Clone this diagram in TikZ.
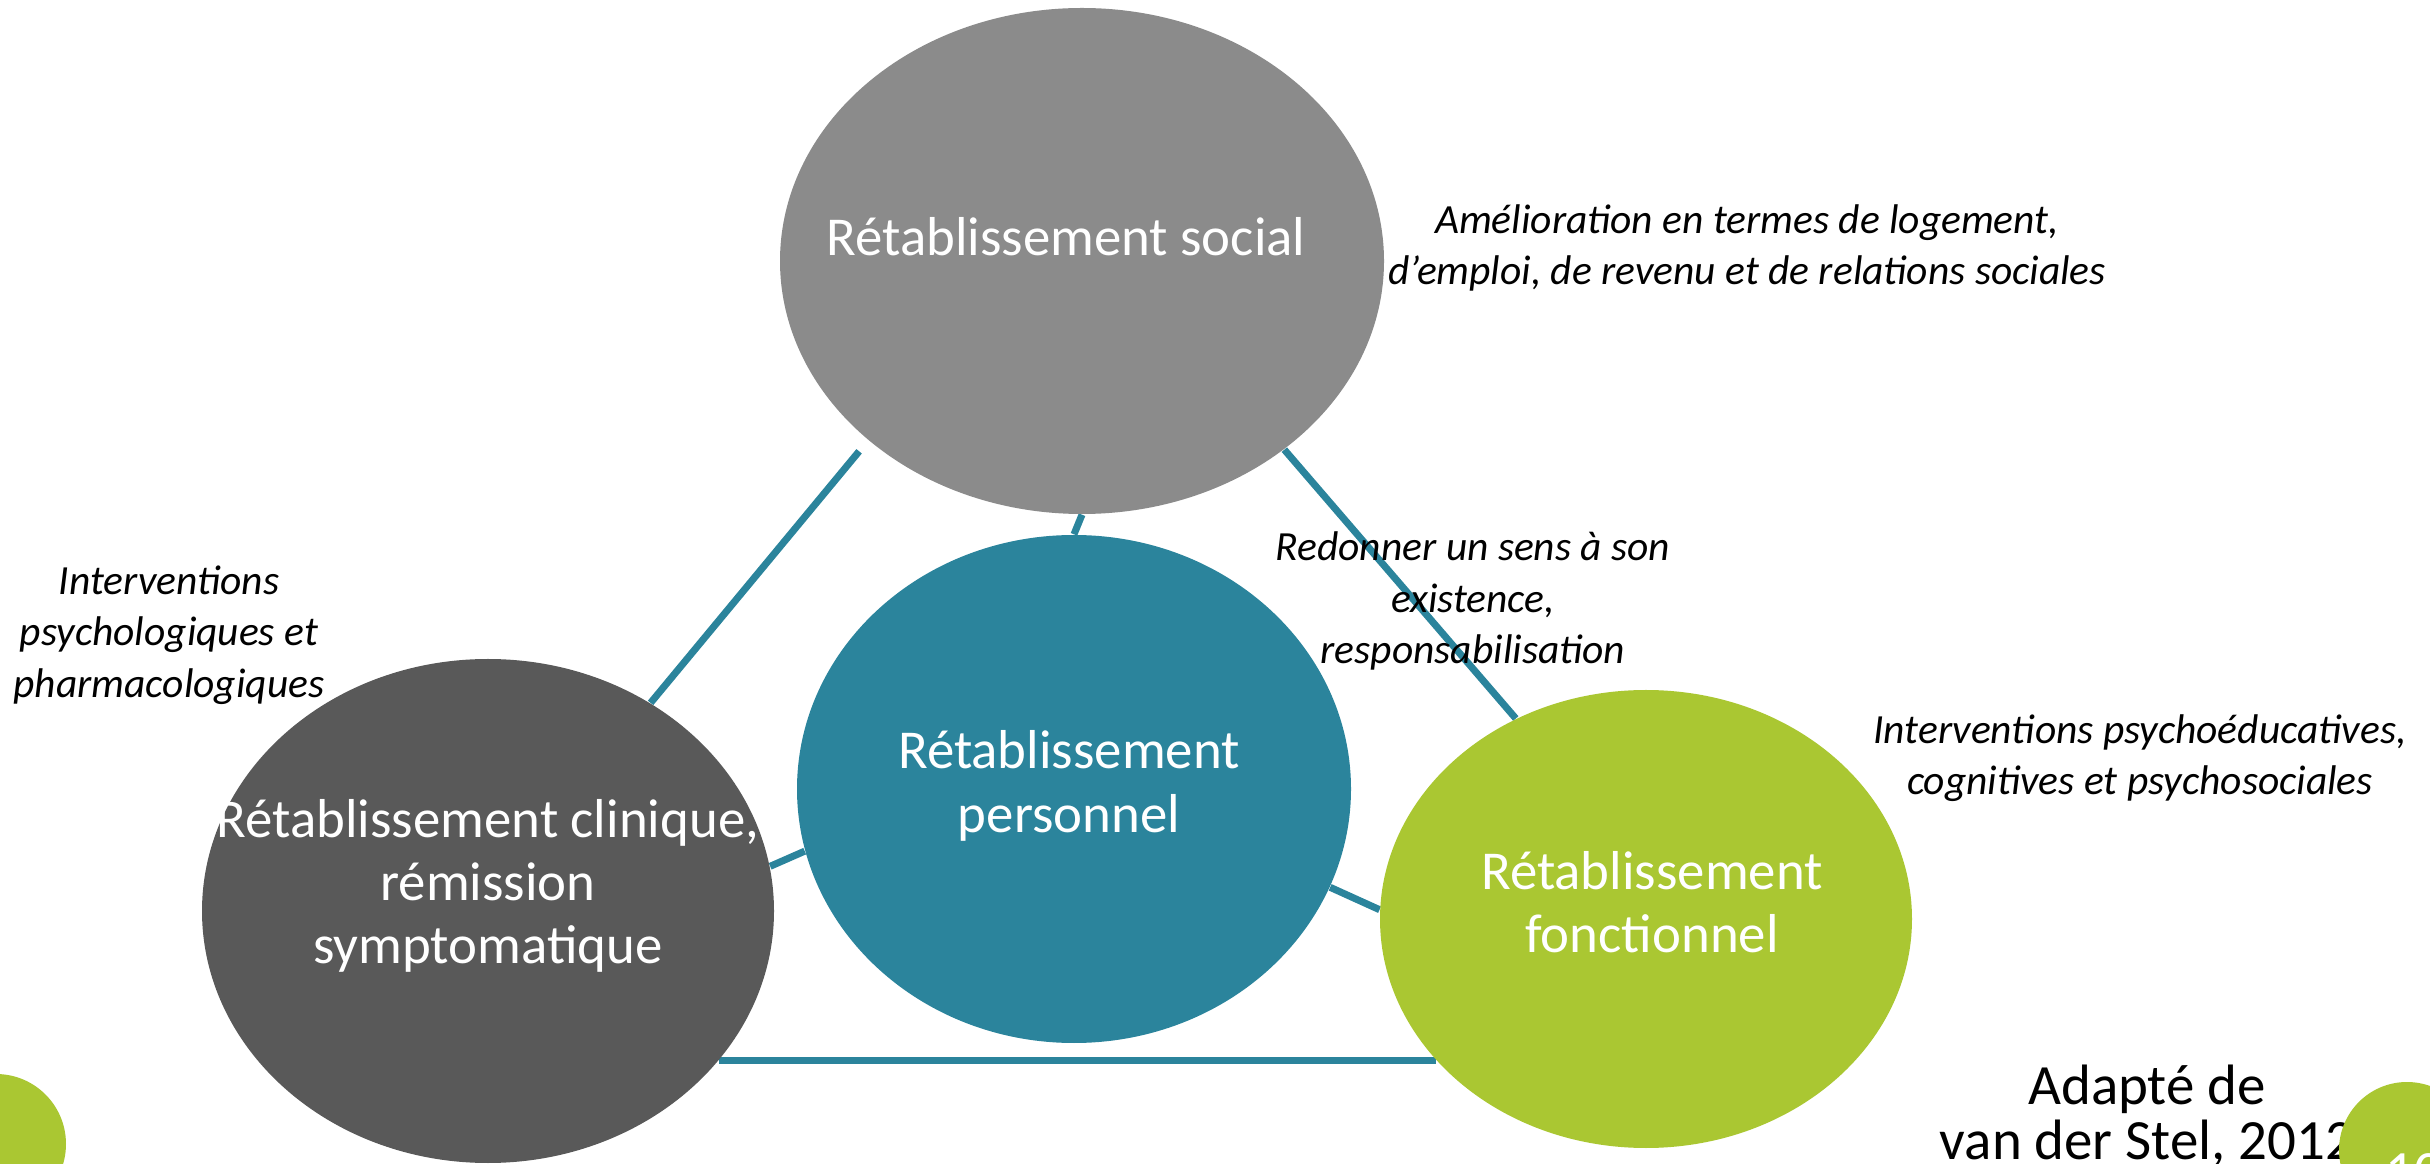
\documentclass[tikz,border=0pt]{standalone}
\usepackage{fontspec}
\setmainfont{Carlito}
\usetikzlibrary{shapes.geometric,backgrounds}

\definecolor{socialgray}{HTML}{8B8B8B}
\definecolor{cliniquegray}{HTML}{595959}
\definecolor{persoteal}{HTML}{2B849C}
\definecolor{fonctgreen}{HTML}{AAC732}

\begin{document}
\begin{tikzpicture}[
	bubble/.style={ellipse, inner sep=0pt, draw=none},
	bigtext/.style={text=white, align=center, font=\fontsize{15.6}{18}\selectfont},
	note/.style={align=center, font=\fontsize{11.8}{14.6}\selectfont\itshape},
	link/.style={line width=2pt, draw=persoteal}
]
	% Frame
	\useasboundingbox (0,0) rectangle (24.30,-11.64);
	\clip (0,0) rectangle (24.30,-11.64);

	% Circles
	\node[bubble, fill=socialgray, minimum width=6.04cm, minimum height=5.06cm] (social) at (10.82,-2.61) {};
	\node[bubble, fill=cliniquegray, minimum width=5.72cm, minimum height=5.04cm] (clinique) at (4.88,-9.11) {};
	\node[bubble, fill=persoteal, minimum width=5.54cm, minimum height=5.08cm] (personnel) at (10.74,-7.89) {};
	\node[bubble, fill=fonctgreen, minimum width=5.32cm, minimum height=4.58cm] (fonctionnel) at (16.46,-9.19) {};

	% Connecting lines
	\begin{pgfonlayer}{background}
		\draw[link, shorten <=4pt] (social.220) -- (clinique.52);
		\draw[link] (social.-43) -- (fonctionnel.123);
		\draw[link] (social.south) -- (personnel.north);
		\draw[link] (clinique.9) -- (personnel.193);
		\draw[link] (personnel.-21) -- (fonctionnel.178);
		\draw[link] (clinique.-33) -- (clinique.-33 -| fonctionnel.214);
	\end{pgfonlayer}

	% Circle labels
	\node[bigtext] (social-t) at (10.66,-2.37) {Rétablissement social};
	\node[bigtext] (clinique-t) at (4.88,-8.86) {Rétablissement clinique,\\rémission\\symptomatique};
	\node[bigtext] (personnel-t) at (10.69,-7.86) {Rétablissement\\personnel};
	\node[bigtext] (fonctionnel-t) at (16.52,-9.02) {Rétablissement\\fonctionnel};

	% Notes
	\node[note] (social-n) at (17.47,-2.48) {Amélioration en termes de logement,\\d’emploi, de revenu et de relations sociales};
	\node[note] (clinique-n) at (1.69,-6.35) {Interventions\\psychologiques et\\pharmacologiques};
	\node[note] (personnel-n) at (14.73,-6.01) {Redonner un sens à son\\existence,\\responsabilisation};
	\node[note] (fonctionnel-n) at (21.40,-7.58) {Interventions psychoéducatives,\\cognitives et psychosociales};

	% Source and page corner
	\node[align=center, font=\fontsize{16.2}{15.8}\selectfont] (source) at (21.47,-11.16) {Adapté de\\van der Stel, 2012};
	\fill[fonctgreen] (-0.04,-11.44) circle [radius=0.70];
	\fill[fonctgreen] (24.07,-11.50) circle [radius=0.68];
	\node[text=white, font=\fontsize{16.2}{16.2}\selectfont] (page) at (24.14,-11.72) {10};

\end{tikzpicture}
\end{document}
